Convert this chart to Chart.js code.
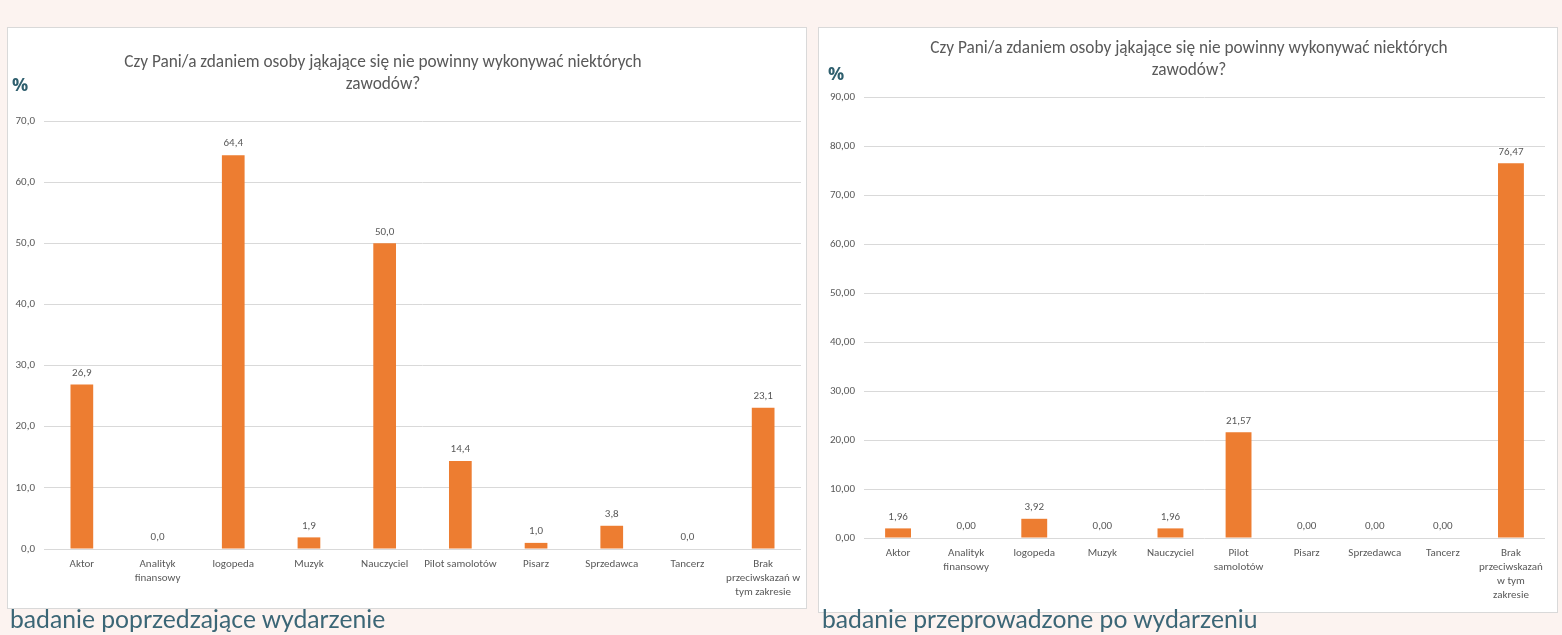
<!DOCTYPE html>
<html>
<head>
<meta charset="utf-8">
<script src="https://cdn.jsdelivr.net/npm/chart.js@4"></script>
<style>
  html, body { margin:0; padding:0; }
  body { width:1562px; height:635px; background:#fcf3f0; position:relative; overflow:hidden; font-family:Carlito,"Liberation Sans",sans-serif; }
  .panel { position:absolute; background:#fff; border:1px solid #d9d9d9; box-sizing:border-box; }
  .panel canvas { position:absolute; left:0; top:0; }
  .title { position:absolute; text-align:center; color:#595959; font-size:17.3px; line-height:22px; white-space:nowrap; }
  .pct { position:absolute; color:#2f5f6e; font-weight:bold; font-size:18px; font-family:"Open Sans",sans-serif; }
  .caption { position:absolute; color:#3b6676; font-size:24.7px; font-family:"Lato","Open Sans",sans-serif; white-space:nowrap; }
</style>
</head>
<body>
<div class="panel" id="p1" style="left:7px; top:27px; width:800px; height:582px;">
  <canvas id="c1"></canvas>
  <div class="title" style="left:75px; top:23px; width:600px;">Czy Pani/a zdaniem osoby jąkające się nie powinny wykonywać niektórych<br>zawodów?</div>
  <div class="pct" style="left:4px; top:44px;">%</div>
</div>
<div class="panel" id="p2" style="left:818px; top:27px; width:740px; height:586px;">
  <canvas id="c2"></canvas>
  <div class="title" style="left:70px; top:9px; width:600px;">Czy Pani/a zdaniem osoby jąkające się nie powinny wykonywać niektórych<br>zawodów?</div>
  <div class="pct" style="left:9px; top:33px;">%</div>
</div>
<div class="caption" style="left:10px; top:604px;">badanie poprzedzające wydarzenie</div>
<div class="caption" style="left:822px; top:604px;">badanie przeprowadzone po wydarzeniu</div>

<script>
// ---- data ----
const categoriesBefore = ["Aktor", ["Analityk","finansowy"], "logopeda", "Muzyk", "Nauczyciel", "Pilot samolotów", "Pisarz", "Sprzedawca", "Tancerz", ["Brak","przeciwskazań w","tym zakresie"]];
const valuesBefore = [26.9, 0.0, 64.4, 1.9, 50.0, 14.4, 1.0, 3.8, 0.0, 23.1];
const yTicksBefore = [0, 10, 20, 30, 40, 50, 60, 70];

const categoriesAfter = ["Aktor", ["Analityk","finansowy"], "logopeda", "Muzyk", "Nauczyciel", ["Pilot","samolotów"], "Pisarz", "Sprzedawca", "Tancerz", ["Brak","przeciwskazań","w tym","zakresie"]];
const valuesAfter = [1.96, 0.00, 3.92, 0.00, 1.96, 21.57, 0.00, 0.00, 0.00, 76.47];
const yTicksAfter = [0, 10, 20, 30, 40, 50, 60, 70, 80, 90];

const FONT = "Carlito,'Liberation Sans',sans-serif";
const GREY = "#595959";
const BAR = "#ed7d31";

const labelPlugin = {
  id: 'valueLabels',
  afterDatasetsDraw(chart, args, opts) {
    const ctx = chart.ctx;
    const meta = chart.getDatasetMeta(0);
    const data = chart.data.datasets[0].data;
    ctx.save();
    ctx.fillStyle = GREY;
    ctx.font = "11px " + FONT;
    ctx.textAlign = 'center';
    ctx.textBaseline = 'bottom';
    meta.data.forEach((el, i) => {
      const txt = data[i].toFixed(opts.decimals).replace('.', ',');
      ctx.fillText(txt, el.x, el.y - 6);
    });
    ctx.restore();
  }
};

function makeChart(id, w, h, cats, vals, ticks, decimals, cfg) {
  const canvas = document.getElementById(id);
  canvas.width = w; canvas.height = h;
  canvas.style.width = w + 'px'; canvas.style.height = h + 'px';
  return new Chart(canvas, {
    type: 'bar',
    data: { labels: cats, datasets: [{ data: vals, backgroundColor: BAR, barPercentage: cfg.barPct, categoryPercentage: 1.0 }] },
    plugins: [labelPlugin],
    options: {
      responsive: false,
      animation: false,
      devicePixelRatio: 1,
      layout: { padding: { top: cfg.top, right: cfg.right, left: 0, bottom: 0 } },
      plugins: { legend: { display: false }, tooltip: { enabled: false }, title: { display: false }, valueLabels: { decimals } },
      scales: {
        x: {
          grid: { display: false },
          border: { display: false },
          ticks: { color: GREY, font: { size: 11, family: FONT, lineHeight: 1.27 }, maxRotation: 0, autoSkip: false, padding: 0 },
          afterFit(s) { s.height = cfg.xh; }
        },
        y: {
          min: ticks[0], max: ticks[ticks.length - 1],
          afterBuildTicks(s) { s.ticks = ticks.map(v => ({ value: v })); },
          grid: { color: '#d9d9d9', lineWidth: 1, drawTicks: false },
          border: { display: false },
          ticks: { color: GREY, font: { size: 11, family: FONT }, padding: 9, callback: v => Number(v).toFixed(decimals).replace('.', ',') },
          afterFit(s) { s.width = cfg.yw; }
        }
      }
    }
  });
}

makeChart('c1', 798, 580, categoriesBefore, valuesBefore, yTicksBefore, 1, { top: 93, right: 5, xh: 59, yw: 36, barPct: 0.30 });
makeChart('c2', 738, 584, categoriesAfter, valuesAfter, yTicksAfter, 2, { top: 69, right: 12, xh: 74, yw: 45, barPct: 0.38 });
</script>
</body>
</html>
